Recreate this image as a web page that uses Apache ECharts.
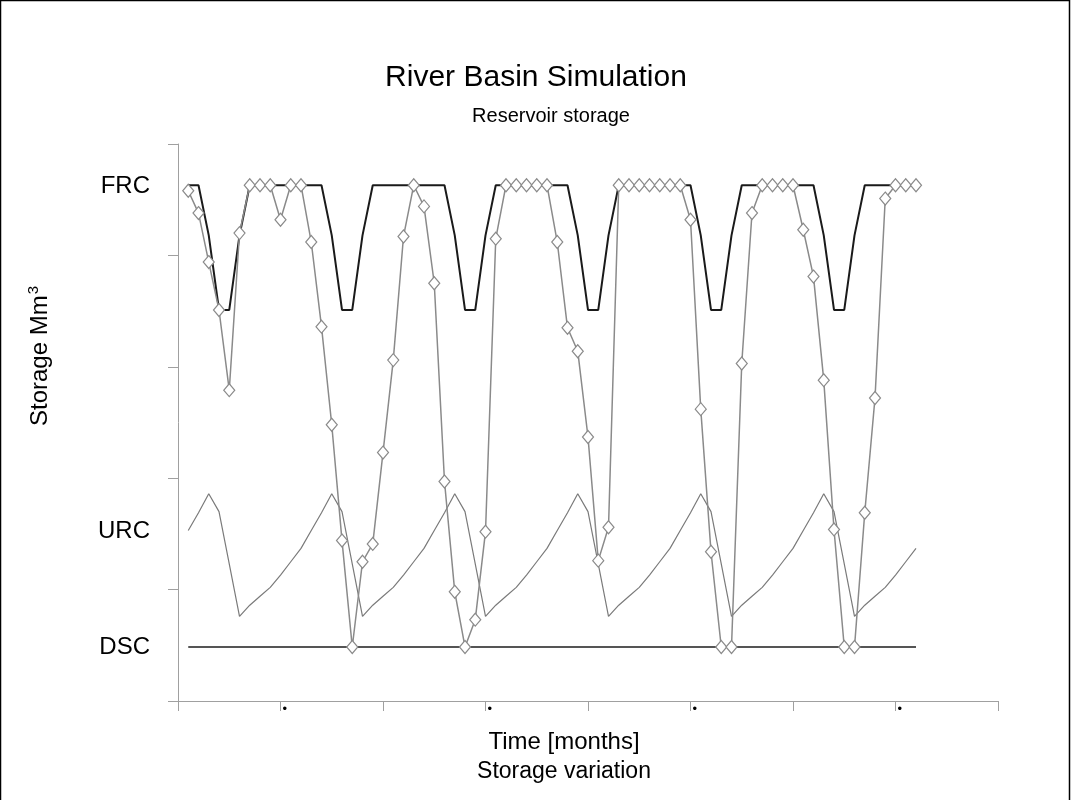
<!DOCTYPE html>
<html>
<head>
<meta charset="utf-8">
<script src="https://cdn.jsdelivr.net/npm/echarts@6/dist/echarts.min.js"></script>
<style>
html,body{margin:0;padding:0;background:#fff;}
#chart{width:1071px;height:800px;}
</style>
</head>
<body>
<div id="chart"></div>
<script>
// ---- data ----
const months = [1,2,3,4,5,6,7,8,9,10,11,12,13,14,15,16,17,18,19,20,21,22,23,24,
  25,26,27,28,29,30,31,32,33,34,35,36,37,38,39,40,41,42,43,44,45,46,47,48,
  49,50,51,52,53,54,55,56,57,58,59,60,61,62,63,64,65,66,67,68,69,70,71,72];

// FRC rule curve (black)
const frcRule = [463,463,418,351,351,418,
  463,463,463,463,463,463,463,463,418,351,351,418,
  463,463,463,463,463,463,463,463,418,351,351,418,
  463,463,463,463,463,463,463,463,418,351,351,418,
  463,463,463,463,463,463,463,463,418,351,351,418,
  463,463,463,463,463,463,463,463,418,351,351,418,
  463,463,463,463,463,463];

// FRC storage (diamonds)
const frcStorage = [458,438,394,351,279,420,463,463,463,432,463,463,
  412,336,248,144,48.5,125,141,223,306,417,463,444,
  375,197,98,48.5,73,152,415,463,463,463,463,463,
  412,335,314,237,126,156,463,463,463,463,463,463,
  463,432,262,134,48.5,48.5,303,438,463,463,463,463,
  423,381,288,154,48.5,48.5,169,272,451,463,463,463];

// URC storage (thin grey)
const urcStorage = [153,169,186,170,123,76,86,94,102,113,125,137,
  153,169,186,170,123,76,86,94,102,113,125,137,
  153,169,186,170,123,76,86,94,102,113,125,137,
  153,169,186,170,123,76,86,94,102,113,125,137,
  153,169,186,170,123,76,86,94,102,113,125,137,
  153,169,186,170,123,76,86,94,102,113,125,137];

// DSC storage (flat)
const dscStorage = [48.5,48.5,48.5,48.5,48.5,48.5,48.5,48.5,48.5,48.5,48.5,48.5,
  48.5,48.5,48.5,48.5,48.5,48.5,48.5,48.5,48.5,48.5,48.5,48.5,
  48.5,48.5,48.5,48.5,48.5,48.5,48.5,48.5,48.5,48.5,48.5,48.5,
  48.5,48.5,48.5,48.5,48.5,48.5,48.5,48.5,48.5,48.5,48.5,48.5,
  48.5,48.5,48.5,48.5,48.5,48.5,48.5,48.5,48.5,48.5,48.5,48.5,
  48.5,48.5,48.5,48.5,48.5,48.5,48.5,48.5,48.5,48.5,48.5,48.5];

const yLabelNames = ['FRC', 'URC', 'DSC'];
const yLabelValues = [462, 152, 48.5];
const xMarkedTicks = [10, 30, 50, 70];
const xMarkLabel = '\u2022';

const titleText = 'River Basin Simulation';
const subtitleText = 'Reservoir storage';
const yAxisTitle = 'Storage Mm';
const yAxisTitleSup = '3';
const xAxisTitle1 = 'Time [months]';
const xAxisTitle2 = 'Storage variation';

function pairs(vals){ return months.map((m,i)=>[m, vals[i]]); }

const FONT = '"Liberation Sans", Arial, sans-serif';
const chart = echarts.init(document.getElementById('chart'), null, {renderer:'canvas'});

const axisGrey = '#a0a0a0';

chart.setOption({
  animation: false,
  backgroundColor: '#fff',
  grid: {left: 178, right: 73, top: 144, bottom: 99, containLabel: false},
  xAxis: {
    type: 'value', min: 0, max: 80, interval: 10,
    axisLine: {show: true, lineStyle: {color: axisGrey, width: 1}},
    axisTick: {show: true, length: 10, lineStyle: {color: axisGrey, width: 1}},
    splitLine: {show: false},
    axisLabel: {
      margin: 2, fontSize: 13, color: '#000', fontFamily: FONT,
      align: 'left', padding: [0,0,0,2],
      formatter: v => xMarkedTicks.includes(v) ? xMarkLabel : ''
    }
  },
  yAxis: {
    type: 'value', min: 0, max: 500, interval: 100,
    axisLine: {show: true, lineStyle: {color: axisGrey, width: 1}},
    axisTick: {show: true, length: 10, lineStyle: {color: axisGrey, width: 1}},
    splitLine: {show: false},
    axisLabel: {
      customValues: yLabelValues,
      margin: 28, fontSize: 24, color: '#000', fontFamily: FONT,
      formatter: v => { const i = yLabelValues.indexOf(v); return i >= 0 ? yLabelNames[i] : ''; }
    }
  },
  series: [
    {
      name: 'FRC rule', type: 'line', data: pairs(frcRule), showSymbol: false,
      lineStyle: {color: '#1a1a1a', width: 2}, z: 2
    },
    {
      name: 'URC', type: 'line', data: pairs(urcStorage), showSymbol: false,
      lineStyle: {color: '#7a7a7a', width: 1.2}, z: 3
    },
    {
      name: 'DSC', type: 'line', data: pairs(dscStorage), showSymbol: false,
      lineStyle: {color: '#555', width: 2}, z: 3
    },
    {
      name: 'FRC', type: 'line', data: pairs(frcStorage),
      symbol: 'diamond', symbolSize: [11, 13], showSymbol: true,
      itemStyle: {color: '#fff', borderColor: '#8a8a8a', borderWidth: 1.2},
      lineStyle: {color: '#8a8a8a', width: 1.5}, z: 4
    }
  ],
  graphic: [
    {type: 'rect', shape: {x: 0.5, y: 0.5, width: 1069, height: 830},
     style: {fill: null, stroke: '#000', lineWidth: 1.5}, z: 100, silent: true},
    {type: 'text', x: 536, y: 78, style: {text: titleText, font: '30px ' + FONT, fill: '#000', align: 'center', verticalAlign: 'middle'}},
    {type: 'text', x: 551, y: 116, style: {text: subtitleText, font: '20px ' + FONT, fill: '#000', align: 'center', verticalAlign: 'middle'}},
    {type: 'text', x: 40, y: 356, rotation: Math.PI/2,
     style: {text: yAxisTitle + '{s|' + yAxisTitleSup + '}', font: '24px ' + FONT, fill: '#000', align: 'center', verticalAlign: 'middle',
       rich: {s: {fontSize: 15, fontFamily: FONT, fill: '#000', padding: [0,0,12,1]}}}},
    {type: 'text', x: 564, y: 742, style: {text: xAxisTitle1, font: '24px ' + FONT, fill: '#000', align: 'center', verticalAlign: 'middle'}},
    {type: 'text', x: 564, y: 772, style: {text: xAxisTitle2, font: '23px ' + FONT, fill: '#000', align: 'center', verticalAlign: 'middle'}}
  ]
});
</script>
</body>
</html>
